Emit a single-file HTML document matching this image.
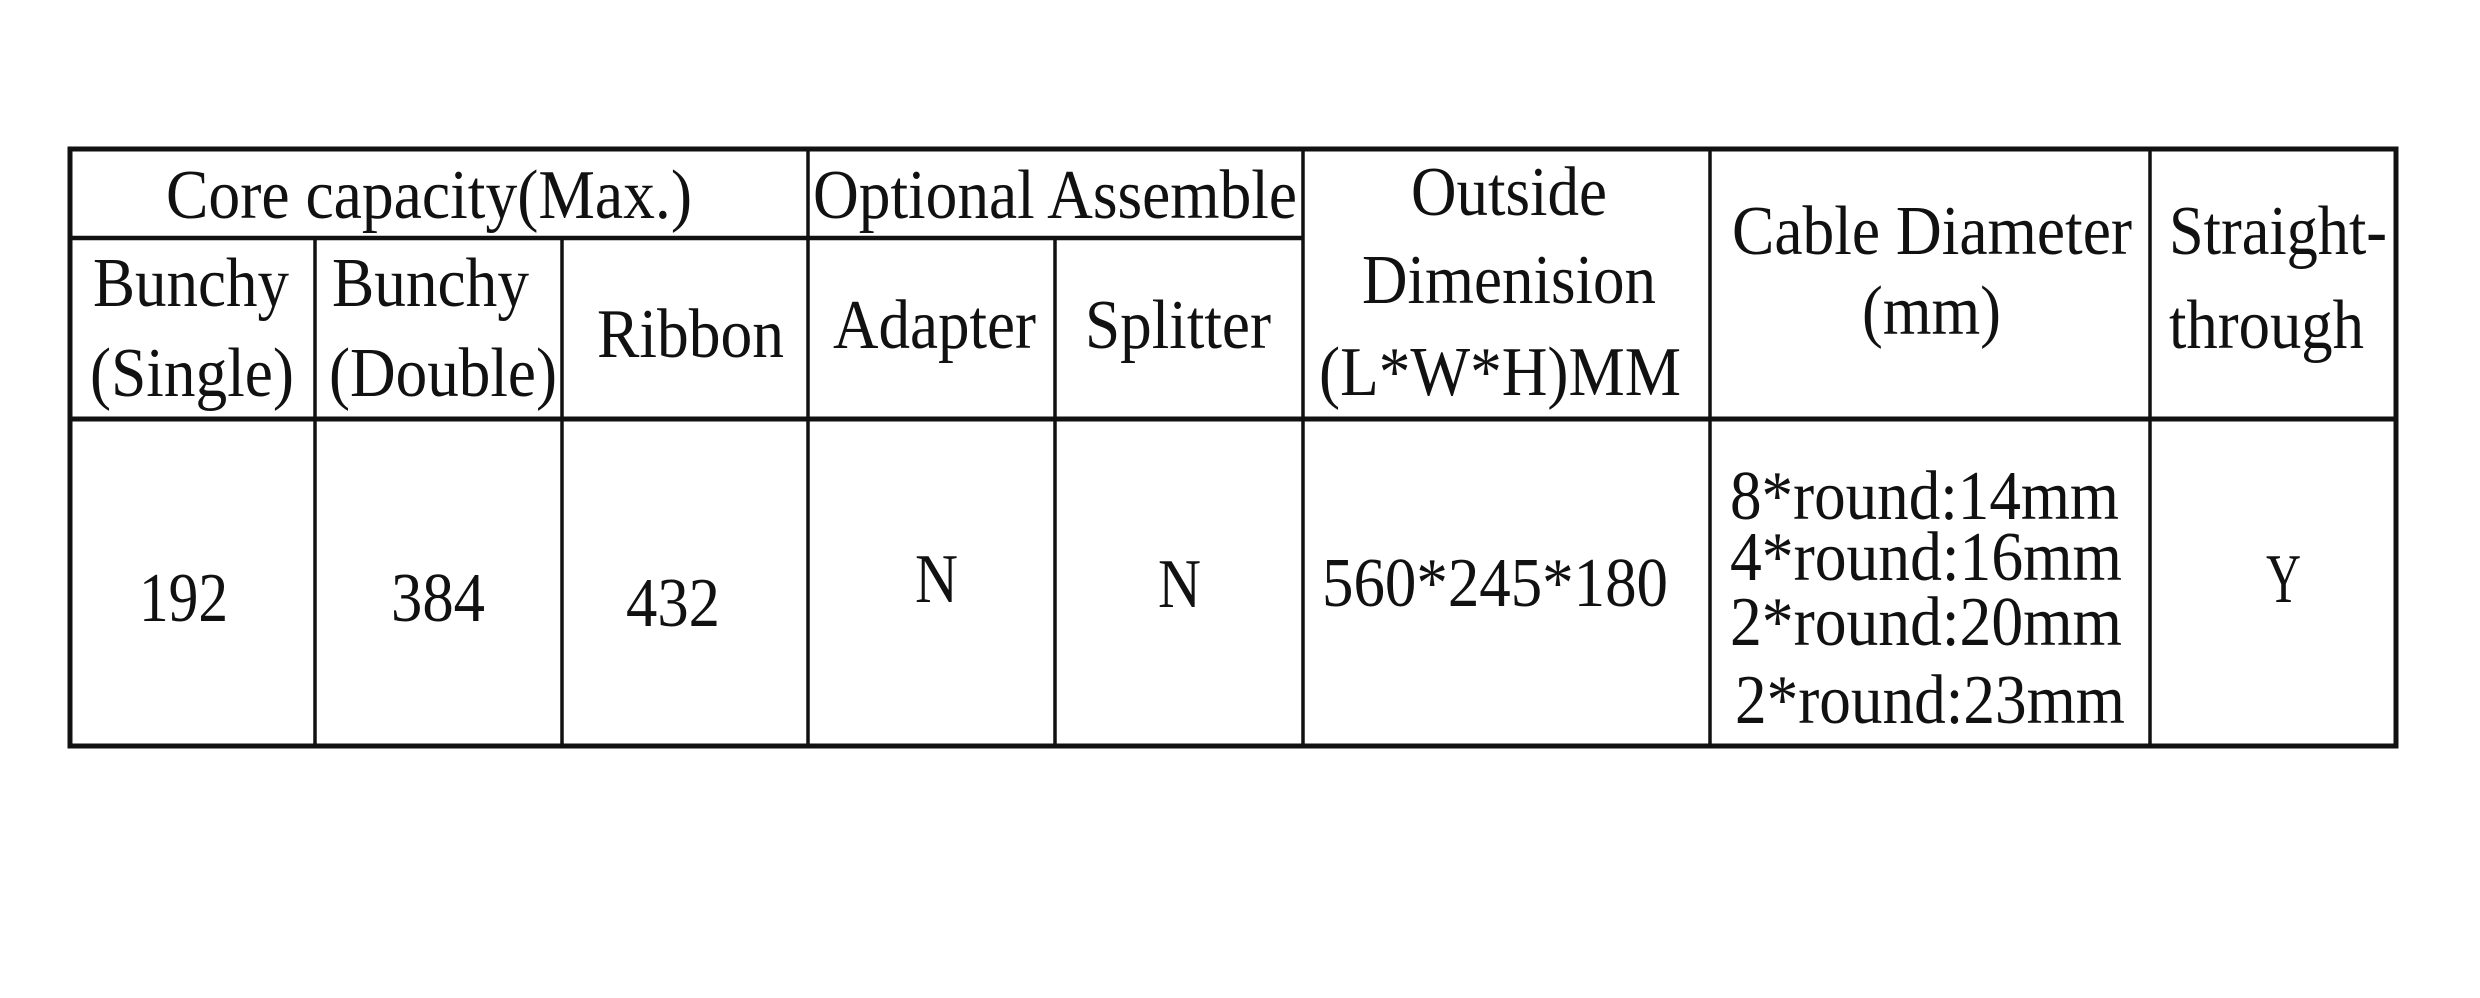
<!DOCTYPE html>
<html><head><meta charset="utf-8"><style>html,body{margin:0;padding:0;background:#fff;}svg{display:block}</style></head>
<body>
<svg width="2480" height="998" viewBox="0 0 2480 998" xmlns="http://www.w3.org/2000/svg">
<rect width="2480" height="998" fill="#fff"/>
<g stroke="#111" fill="none">
<rect x="70" y="149" width="2326" height="597" stroke-width="5"/>
<line x1="70" y1="238" x2="1303" y2="238" stroke-width="4.5"/>
<line x1="70" y1="419" x2="2396" y2="419" stroke-width="5"/>
<line x1="315" y1="238" x2="315" y2="746" stroke-width="3.5"/>
<line x1="562" y1="238" x2="562" y2="746" stroke-width="3.5"/>
<line x1="808" y1="149" x2="808" y2="746" stroke-width="3.5"/>
<line x1="1055" y1="238" x2="1055" y2="746" stroke-width="3.5"/>
<line x1="1303" y1="149" x2="1303" y2="746" stroke-width="3.5"/>
<line x1="1710" y1="149" x2="1710" y2="746" stroke-width="3.5"/>
<line x1="2150" y1="149" x2="2150" y2="746" stroke-width="3.5"/>
</g>
<g font-family="'Liberation Serif', serif" font-size="70" fill="#111">
<text x="166" y="218" textLength="526" lengthAdjust="spacingAndGlyphs">Core capacity(Max.)</text>
<text x="813" y="218" textLength="484" lengthAdjust="spacingAndGlyphs">Optional Assemble</text>
<text x="93" y="306" textLength="196" lengthAdjust="spacingAndGlyphs">Bunchy</text>
<text x="90" y="396" textLength="204" lengthAdjust="spacingAndGlyphs">(Single)</text>
<text x="332" y="306" textLength="197" lengthAdjust="spacingAndGlyphs">Bunchy</text>
<text x="329" y="396" textLength="228" lengthAdjust="spacingAndGlyphs">(Double)</text>
<text x="597" y="357" textLength="187" lengthAdjust="spacingAndGlyphs">Ribbon</text>
<text x="833" y="348" textLength="203" lengthAdjust="spacingAndGlyphs">Adapter</text>
<text x="1085" y="348" textLength="186" lengthAdjust="spacingAndGlyphs">Splitter</text>
<text x="1411" y="215" textLength="196" lengthAdjust="spacingAndGlyphs">Outside</text>
<text x="1362" y="303" textLength="294" lengthAdjust="spacingAndGlyphs">Dimenision</text>
<text x="1319" y="395" textLength="362" lengthAdjust="spacingAndGlyphs">(L*W*H)MM</text>
<text x="1732" y="254" textLength="400" lengthAdjust="spacingAndGlyphs">Cable Diameter</text>
<text x="1862" y="334" textLength="139" lengthAdjust="spacingAndGlyphs">(mm)</text>
<text x="2169" y="254" textLength="218" lengthAdjust="spacingAndGlyphs">Straight-</text>
<text x="2169" y="348" textLength="195" lengthAdjust="spacingAndGlyphs">through</text>
<text x="139" y="621" textLength="89" lengthAdjust="spacingAndGlyphs">192</text>
<text x="391" y="621" textLength="94" lengthAdjust="spacingAndGlyphs">384</text>
<text x="626" y="626" textLength="94" lengthAdjust="spacingAndGlyphs">432</text>
<text x="915" y="602" textLength="43" lengthAdjust="spacingAndGlyphs">N</text>
<text x="1158" y="607" textLength="43" lengthAdjust="spacingAndGlyphs">N</text>
<text x="1322" y="606" textLength="346" lengthAdjust="spacingAndGlyphs">560*245*180</text>
<text x="1730" y="519" textLength="389" lengthAdjust="spacingAndGlyphs">8*round:14mm</text>
<text x="1730" y="580" textLength="392" lengthAdjust="spacingAndGlyphs">4*round:16mm</text>
<text x="1730" y="645" textLength="392" lengthAdjust="spacingAndGlyphs">2*round:20mm</text>
<text x="1735" y="723" textLength="390" lengthAdjust="spacingAndGlyphs">2*round:23mm</text>
<text x="2266" y="602" textLength="35" lengthAdjust="spacingAndGlyphs">Y</text>
</g>
</svg>
</body></html>
